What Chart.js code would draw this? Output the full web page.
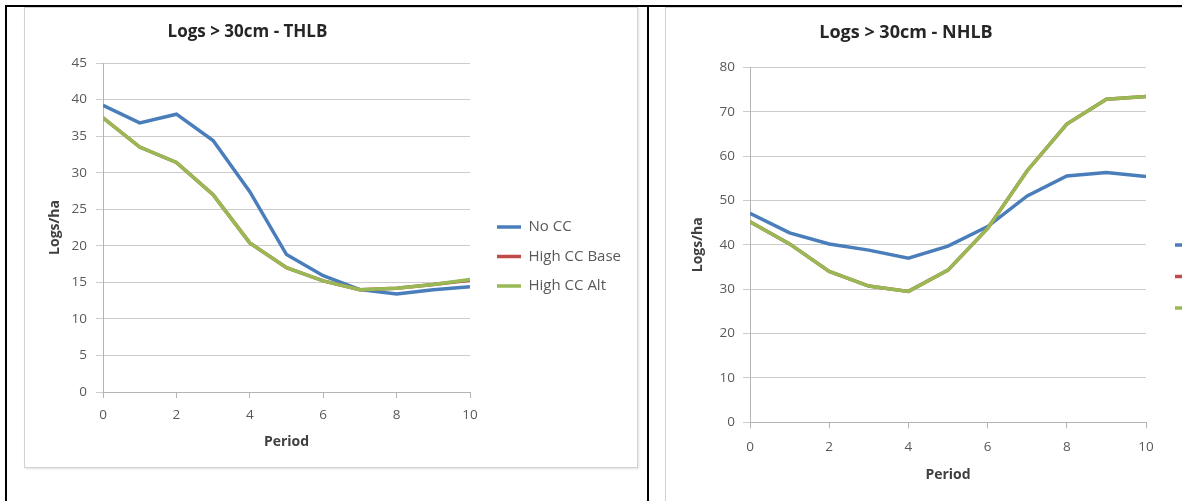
<!DOCTYPE html>
<html>
<head>
<meta charset="utf-8">
<script src="https://cdn.jsdelivr.net/npm/chart.js@4.4.1/dist/chart.umd.min.js"></script>
<style>
html,body{margin:0;padding:0;background:#fff;}
body{width:1182px;height:501px;overflow:hidden;position:relative;}
.rule{position:absolute;background:#000;}
.frame{position:absolute;border:1px solid #d2d2d2;box-shadow:1px 1px 2px rgba(0,0,0,0.12);background:#fff;}
canvas{display:block;}
</style>
</head>
<body>
<div class="rule" style="left:5px;top:5px;width:1177px;height:2px"></div>
<div class="rule" style="left:5px;top:5px;width:2px;height:496px"></div>
<div class="rule" style="left:647px;top:5px;width:2px;height:496px"></div>
<div class="frame" style="left:24px;top:7px;width:612px;height:459px"><canvas id="c1" width="612" height="459"></canvas></div>
<div class="frame" style="left:665px;top:7px;width:700px;height:560px"><canvas id="c2" width="656" height="491"></canvas></div>
<script>
// ---- data ----
const periods = [0, 1, 2, 3, 4, 5, 6, 7, 8, 9, 10];
const seriesNames = ['No CC', 'High CC Base', 'High CC Alt'];

const thlbNoCC     = [39.2, 36.8, 38.0, 34.4, 27.4, 18.8, 15.9, 14.0, 13.4, 14.0, 14.4];
const thlbHighBase = [37.5, 33.5, 31.4, 27.0, 20.4, 17.0, 15.2, 14.0, 14.2, 14.7, 15.3];
const thlbHighAlt  = [37.5, 33.5, 31.4, 27.0, 20.4, 17.0, 15.2, 14.0, 14.2, 14.7, 15.4];

const nhlbNoCC     = [47.1, 42.7, 40.2, 38.8, 37.0, 39.7, 44.1, 51.0, 55.5, 56.3, 55.4];
const nhlbHighBase = [45.2, 40.2, 34.0, 30.7, 29.5, 34.3, 43.7, 56.7, 67.2, 72.8, 73.4];
const nhlbHighAlt  = [45.2, 40.2, 34.0, 30.7, 29.5, 34.3, 43.7, 56.7, 67.2, 72.8, 73.4];

const thlbYMax = 45, thlbYStep = 5;
const nhlbYMax = 80, nhlbYStep = 10;
const xMax = 10, xStep = 2;

// ---- chart building ----
const FONT = 'Open Sans';
const colors = ['#4A7EBB', '#BE4B48', '#98B954'];
const drawOrder = [2, 1, 0];

const placeLegend = {
  id: 'placeLegend',
  afterLayout(chart, args, opts) {
    const lg = chart.legend;
    if (!lg) return;
    lg.left = opts.left; lg.top = opts.top;
    lg.width = 400; lg.height = 300;
    lg.right = lg.left + lg.width; lg.bottom = lg.top + lg.height;
  }
};

function pts(vals) { return periods.map((p, i) => ({x: p, y: vals[i]})); }

function makeChart(id, titleText, series, yMax, yStep, g) {
  const datasets = series.map((vals, i) => ({
    label: seriesNames[i],
    data: pts(vals),
    borderColor: colors[i],
    backgroundColor: colors[i],
    borderWidth: 3.5,
    pointRadius: 0,
    pointHoverRadius: 0,
    tension: 0,
    fill: false,
    order: drawOrder[i]
  }));
  return new Chart(document.getElementById(id), {
    type: 'line',
    data: {datasets},
    plugins: [placeLegend],
    options: {
      responsive: false,
      animation: false,
      devicePixelRatio: 1,
      layout: {padding: {left: 0, top: 0, right: g.padRight, bottom: 0}},
      plugins: {
        title: {
          display: true, text: titleText, color: '#262626',
          font: {family: FONT, size: g.titleSize, weight: 'bold'},
          padding: {top: g.tTop, bottom: g.tBot}
        },
        legend: {
          position: 'chartArea', align: 'start',
          labels: {
            usePointStyle: true, pointStyle: 'line', pointStyleWidth: 24,
            padding: g.legPad, color: '#595959',
            font: {family: FONT, size: 15},
            sort: (a, b) => a.datasetIndex - b.datasetIndex
          }
        },
        placeLegend: {left: g.legLeft, top: g.legTop},
        tooltip: {enabled: false}
      },
      scales: {
        x: {
          type: 'linear', min: 0, max: xMax,
          ticks: {stepSize: xStep, padding: g.xTickPad, color: '#595959', font: {family: FONT, size: 13.5}},
          grid: {drawOnChartArea: false, drawTicks: true, tickLength: 6, color: '#b4b4b4'},
          border: {display: true, color: '#b4b4b4'},
          title: {display: true, text: 'Period', color: '#404040',
                  font: {family: FONT, size: 14, weight: 'bold'}, padding: {top: 0, bottom: g.xTitlePad}},
          afterFit: s => { s.height = g.xHeight; }
        },
        y: {
          min: 0, max: yMax,
          ticks: {stepSize: yStep, padding: g.yTickPad, color: '#595959', font: {family: FONT, size: 13.5}},
          grid: {color: '#cccccc', lineWidth: 1, tickLength: 7, drawTicks: true},
          border: {display: true, color: '#b4b4b4'},
          title: {display: true, text: 'Logs/ha', color: '#404040',
                  font: {family: FONT, size: 14, weight: 'bold'}, padding: {top: g.yTitlePad, bottom: 0}},
          afterFit: s => { s.width = g.yWidth; }
        }
      }
    }
  });
}

makeChart('c1', 'Logs > 30cm - THLB', [thlbNoCC, thlbHighBase, thlbHighAlt], thlbYMax, thlbYStep, {
  padRight: 167, titleSize: 17, tTop: 13.8, tBot: 20.8,
  yWidth: 78, yTickPad: 9, yTitlePad: 21.6,
  xHeight: 75, xTickPad: 8.9, xTitlePad: 16.6,
  legPad: 14.5, legLeft: 457.5, legTop: 197
});

makeChart('c2', 'Logs > 30cm - NHLB', [nhlbNoCC, nhlbHighBase, nhlbHighAlt], nhlbYMax, nhlbYStep, {
  padRight: 176, titleSize: 18, tTop: 14.2, tBot: 23.5,
  yWidth: 84, yTickPad: 8, yTitlePad: 23.6,
  xHeight: 76.7, xTickPad: 10.6, xTitlePad: 15.6,
  legPad: 16.5, legLeft: 492.5, legTop: 213
});
</script>
</body>
</html>
